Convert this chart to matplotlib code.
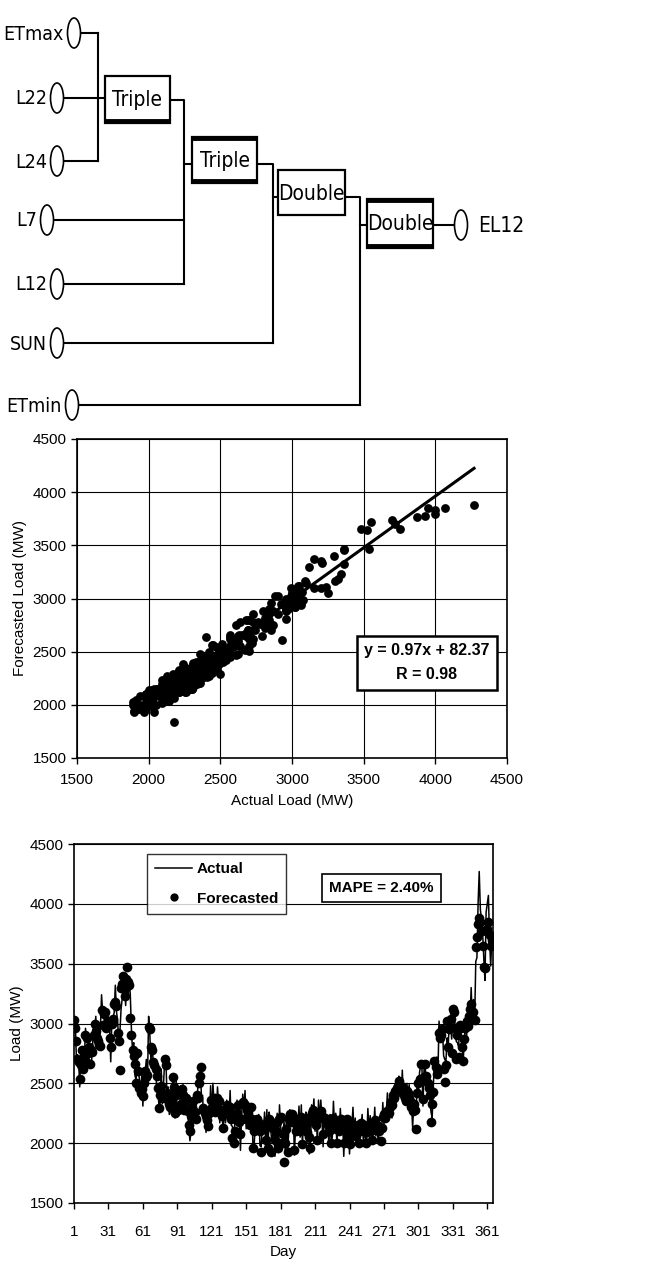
"""
Polynomial network for the 12 o'clock load plus its forecast check:
scatter of forecasted vs actual load and the daily load over the year.
"""

import os

import matplotlib.pyplot as plt
from matplotlib import font_manager as fm
from matplotlib.patches import Ellipse, Rectangle

# network inputs, top to bottom, and the node types feeding EL12
input_names = ["ETmax", "L22", "L24", "L7", "L12", "SUN", "ETmin"]
node_labels = ["Triple", "Triple", "Double", "Double"]
output_name = "EL12"

# daily 12 o'clock load (MW)
actual_load = [
    3000, 3040, 2730, 2740, 2690, 2470, 2790, 2730, 2720, 2690,
    2960, 2860, 2860, 2710, 2690, 2640, 2780, 2970, 2960, 3060,
    2800, 2900, 2810, 2960, 3240, 3080, 3050, 2990, 3000, 3000,
    2990, 2960, 2680, 3040, 3050, 3090, 3320, 3100, 3020, 2840,
    2930, 3120, 3210, 3290, 3340, 3150, 3360, 3200, 3360, 3250,
    2960, 2760, 2840, 2570, 2530, 2610, 2620, 2530, 2380, 2570,
    2310, 2550, 2590, 2700, 2510, 3060, 2920, 2690, 2820, 2680,
    2620, 2700, 2440, 2500, 2300, 2330, 2620, 2330, 2500, 2690,
    2710, 2400, 2470, 2240, 2330, 2240, 2570, 2540, 2210, 2520,
    2220, 2330, 2300, 2480, 2390, 2490, 2250, 2240, 2420, 2270,
    2120, 2020, 2110, 2340, 2360, 2190, 2340, 2350, 2480, 2490,
    2620, 2400, 2400, 2180, 2280, 2090, 2210, 2210, 2210, 2480,
    2220, 2500, 2340, 2410, 2230, 2470, 2320, 2170, 2310, 2230,
    2100, 2330, 2170, 2360, 2290, 2180, 2440, 2150, 2140, 1990,
    2160, 2200, 2360, 2230, 2210, 1940, 2220, 2410, 2290, 2440,
    2120, 2330, 2240, 2300, 2240, 2290, 1930, 1990, 2190, 2200,
    2150, 2240, 1980, 1970, 2140, 2080, 2260, 1980, 2280, 1950,
    2260, 2160, 2040, 2060, 2150, 1890, 2120, 2250, 1920, 2320,
    2140, 2050, 2070, 2180, 1940, 2210, 1900, 2090, 2280, 2180,
    2210, 2260, 1900, 2140, 2160, 2130, 2310, 2050, 2320, 1980,
    2240, 2180, 2260, 2000, 2240, 1910, 1980, 2320, 2240, 2370,
    2100, 2200, 2020, 2360, 2180, 2360, 2200, 1970, 2240, 2210,
    2150, 2230, 1980, 2240, 2010, 2050, 2350, 2130, 2250, 1990,
    2180, 2080, 2290, 2110, 2200, 1890, 2150, 2170, 2160, 2180,
    1910, 2110, 2120, 2300, 2080, 2210, 2030, 2040, 2040, 2100,
    2140, 2240, 2020, 2140, 2010, 2020, 2290, 2090, 2230, 2090,
    2090, 2120, 2300, 2060, 2160, 2000, 2120, 2090, 2090, 2340,
    2160, 2260, 2240, 2420, 2190, 2390, 2310, 2210, 2440, 2380,
    2410, 2540, 2360, 2560, 2500, 2380, 2610, 2360, 2480, 2340,
    2500, 2400, 2490, 2260, 2330, 2130, 2350, 2350, 2250, 2540,
    2420, 2590, 2650, 2670, 2310, 2640, 2630, 2450, 2540, 2460,
    2370, 2260, 2210, 2470, 2700, 2570, 2720, 2570, 3020, 2870,
    2960, 2930, 2730, 2700, 2680, 2880, 2820, 3020, 3000, 2870,
    3040, 3150, 2950, 2850, 2840, 2810, 2960, 2850, 2840, 2690,
    2840, 3040, 2900, 3020, 3070, 3050, 3300, 3000, 3200, 3020,
    3520, 3550, 4000, 4270, 3950, 3870, 3750, 3540, 3360, 3930,
    4000, 4070, 3700, 3480, 3720,
]

forecast_load = [
    3030, 2960, 2850, 2700, 2680, 2540, 2650, 2780, 2620, 2700,
    2900, 2880, 2750, 2800, 2660, 2780, 2760, 2900, 3000, 2940,
    2880, 2850, 2820, 2810, 3110, 2990, 3080, 3100, 2960, 3000,
    3020, 2880, 2800, 3000, 3040, 3160, 3180, 3150, 2920, 2850,
    2610, 3300, 3330, 3400, 3230, 3370, 3470, 3350, 3320, 3050,
    2900, 2780, 2730, 2660, 2500, 2750, 2600, 2460, 2420, 2450,
    2390, 2500, 2600, 2550, 2570, 2970, 2950, 2800, 2780, 2680,
    2650, 2620, 2560, 2460, 2290, 2400, 2480, 2380, 2400, 2700,
    2650, 2420, 2360, 2330, 2300, 2380, 2550, 2470, 2250, 2400,
    2300, 2280, 2310, 2330, 2450, 2400, 2280, 2350, 2380, 2270,
    2150, 2100, 2230, 2300, 2350, 2260, 2200, 2400, 2380, 2500,
    2560, 2640, 2290, 2270, 2250, 2230, 2190, 2140, 2250, 2360,
    2300, 2290, 2350, 2260, 2290, 2380, 2350, 2280, 2270, 2230,
    2130, 2250, 2290, 2320, 2280, 2250, 2300, 2200, 2040, 2000,
    2100, 2220, 2250, 2320, 2180, 2080, 2200, 2340, 2330, 2320,
    2200, 2280, 2250, 2150, 2300, 2200, 1960, 2100, 2150, 2200,
    2180, 2160, 2100, 1930, 2130, 2150, 2120, 2030, 2180, 1960,
    2200, 2180, 1930, 2150, 2120, 2030, 2100, 2180, 1960, 2200,
    2220, 2000, 2080, 1840, 2000, 2120, 1930, 2200, 2240, 2180,
    2240, 2180, 1940, 2100, 2150, 2200, 2170, 2100, 2220, 1990,
    2180, 2200, 2150, 2090, 2210, 2050, 1960, 2250, 2280, 2250,
    2180, 2150, 2030, 2210, 2240, 2270, 2230, 2080, 2200, 2210,
    2180, 2150, 2100, 2200, 2000, 2120, 2210, 2180, 2150, 2000,
    2120, 2100, 2180, 2200, 2170, 2000, 2130, 2100, 2200, 2060,
    1990, 2060, 2130, 2150, 2140, 2120, 2060, 2150, 2000, 2100,
    2170, 2160, 2140, 2100, 2000, 2090, 2150, 2140, 2130, 2100,
    2030, 2140, 2190, 2150, 2130, 2140, 2100, 2020, 2130, 2220,
    2240, 2210, 2250, 2270, 2250, 2300, 2340, 2320, 2400, 2380,
    2440, 2460, 2480, 2520, 2490, 2450, 2470, 2410, 2380, 2350,
    2440, 2420, 2380, 2350, 2300, 2270, 2330, 2280, 2120, 2420,
    2500, 2540, 2660, 2520, 2370, 2550, 2660, 2560, 2500, 2460,
    2400, 2180, 2330, 2430, 2690, 2640, 2580, 2620, 2920, 2880,
    2900, 2950, 2620, 2510, 2650, 3020, 2800, 2950, 3040, 2750,
    3120, 3100, 2960, 2700, 2900, 2720, 2990, 2960, 2800, 2690,
    2870, 2960, 3020, 2980, 3060, 3120, 3160, 3050, 3100, 3030,
    3640, 3720, 3830, 3880, 3850, 3770, 3650, 3470, 3460, 3780,
    3790, 3850, 3740, 3650, 3700,
]

days = list(range(1, len(actual_load) + 1))

fit_slope = 0.97
fit_intercept = 82.37
fit_r = 0.98
mape_pct = 2.40

load_ticks = list(range(1500, 4501, 500))
day_ticks = list(range(1, 362, 30))


def find_narrow_font():
    """The diagram uses a tall, narrow face; grab a condensed one if any."""
    wanted = ["dejavusanscondensed.", "liberationsansnarrow-regular",
              "notosans-condensed.", "notosanscondensed-regular",
              "roboto_condensed-regular", "robotocondensed-regular",
              "opensans_condensed-regular", "opensanscondensed-regular"]
    files = {os.path.basename(f.fname).lower(): f.fname
             for f in fm.fontManager.ttflist}
    for key in wanted:
        for base, path in files.items():
            if base.startswith(key) or key in base:
                return path
    return None


NARROW_FILE = find_narrow_font()


def diagram_font(size):
    if NARROW_FILE:
        return fm.FontProperties(fname=NARROW_FILE, size=size)
    return fm.FontProperties(family="Liberation Sans", size=size * 0.8)


def draw_node(ax, x0, y0, x1, y1, label, heavy):
    """Box for one polynomial node; heavy lists the edges drawn thick."""
    ax.add_patch(Rectangle((x0, y0), x1 - x0, y1 - y0, facecolor="white",
                           edgecolor="black", lw=1.6, zorder=2))
    if "t" in heavy:
        ax.plot([x0, x1], [y0 + 1.5, y0 + 1.5], color="black", lw=3.5, zorder=3,
                solid_capstyle="butt")
    if "b" in heavy:
        ax.plot([x0, x1], [y1 - 1.5, y1 - 1.5], color="black", lw=3.5, zorder=3,
                solid_capstyle="butt")
    ax.text((x0 + x1) / 2, (y0 + y1) / 2 + 1, label, ha="center", va="center",
            fontproperties=diagram_font(15), zorder=4)


def draw_network(ax):
    """The network diagram, drawn on a pixel grid."""
    ax.set_xlim(0, 654)
    ax.set_ylim(425, 0)
    ax.axis("off")
    lw = 1.5

    row_y = [33, 98, 161, 220, 284, 343, 405]
    circle_x = [74, 57, 57, 47, 57, 57, 72]
    line_end = [98, 105, 98, 184, 184, 273, 360]

    for name, y, cx, x_end in zip(input_names, row_y, circle_x, line_end):
        ax.plot([cx + 6, x_end], [y, y], color="black", lw=lw)
        ax.add_patch(Ellipse((cx, y), 13, 30, facecolor="white",
                             edgecolor="black", lw=1.2, zorder=3))
        ax.text(cx - 10, y + 1, name, ha="right", va="center",
                fontproperties=diagram_font(14))

    boxes = [
        (105, 76, 170, 123, "b"),
        (192, 137, 257, 183, "tb"),
        (278, 170, 345, 215, ""),
        (367, 199, 433, 248, "tb"),
    ]
    for (x0, y0, x1, y1, heavy), label in zip(boxes, node_labels):
        draw_node(ax, x0, y0, x1, y1, label, heavy)

    # wiring between the stages
    wires = [
        ([98, 98], [33, 161]),
        ([170, 184, 184], [100, 100, 284]),
        ([184, 192], [164, 164]),
        ([257, 273, 273], [164, 164, 343]),
        ([273, 278], [197, 197]),
        ([345, 360, 360], [197, 197, 405]),
        ([360, 367], [225, 225]),
        ([433, 455], [225, 225]),
    ]
    for xs, ys in wires:
        ax.plot(xs, ys, color="black", lw=lw, zorder=1)

    ax.add_patch(Ellipse((461, 225), 13, 30, facecolor="white",
                         edgecolor="black", lw=1.2, zorder=3))
    ax.text(478, 226, output_name, ha="left", va="center",
            fontproperties=diagram_font(15))


def style_axes(ax, xpad):
    for spine in ax.spines.values():
        spine.set_linewidth(1.2)
        spine.set_color("black")
    ax.tick_params(direction="out", length=4, width=1, labelsize=11)
    ax.tick_params(axis="x", pad=xpad)


def draw_scatter(ax):
    """Forecasted vs actual load with the fitted line."""
    x_lo, x_hi = min(actual_load), max(actual_load)
    ax.plot([x_lo, x_hi],
            [fit_slope * x_lo + fit_intercept, fit_slope * x_hi + fit_intercept],
            color="black", lw=2.2, zorder=2)
    ax.scatter(actual_load, forecast_load, s=40, color="black", zorder=3,
               linewidths=0)

    ax.set_xlim(1500, 4500)
    ax.set_ylim(1500, 4500)
    ax.set_xticks(load_ticks)
    ax.set_yticks(load_ticks)
    ax.grid(True, color="black", lw=0.8)
    ax.set_axisbelow(True)
    style_axes(ax, xpad=7)
    ax.set_xlabel("Actual Load (MW)", fontsize=11, labelpad=5)
    ax.set_ylabel("Forecasted Load (MW)", fontsize=11)

    ax.text(0.813, 0.298,
            f"y = {fit_slope:.2f}x + {fit_intercept:.2f}\nR = {fit_r:.2f}",
            transform=ax.transAxes, ha="center", va="center", fontsize=11.5,
            fontweight="bold", linespacing=1.75, zorder=5,
            bbox=dict(boxstyle="square,pad=0.45", facecolor="white",
                      edgecolor="black", lw=1.8))


def draw_timeseries(ax):
    """Daily actual load (line) and forecast (dots)."""
    ax.plot(days, actual_load, color="black", lw=1.1, label="Actual", zorder=3)
    ax.plot(days, forecast_load, "o", color="black", ms=7, mew=0,
            label="Forecasted", zorder=4)

    ax.set_xlim(1, 366)
    ax.set_ylim(1500, 4500)
    ax.set_xticks(day_ticks)
    ax.set_yticks(load_ticks)
    ax.grid(True, axis="y", color="black", lw=0.8)
    ax.set_axisbelow(True)
    style_axes(ax, xpad=12)
    ax.set_xlabel("Day", fontsize=11, labelpad=4)
    ax.set_ylabel("Load (MW)", fontsize=11)

    leg = ax.legend(loc="upper left", bbox_to_anchor=(0.174, 0.972),
                    borderaxespad=0, frameon=True, fancybox=False,
                    handlelength=2.4, borderpad=0.55, labelspacing=1.0,
                    handletextpad=0.3, markerscale=0.85,
                    prop={"weight": "bold", "size": 11})
    leg.get_frame().set_edgecolor("black")
    leg.get_frame().set_linewidth(1.0)

    ax.text(0.734, 0.878, f"MAPE = {mape_pct:.2f}%", transform=ax.transAxes,
            ha="center", va="center", fontsize=11, fontweight="bold", zorder=5,
            bbox=dict(boxstyle="square,pad=0.45", facecolor="white",
                      edgecolor="black", lw=1.2))


def main():
    plt.rcParams["font.family"] = ["Liberation Sans", "DejaVu Sans"]
    W, H = 654, 1261
    fig = plt.figure(figsize=(W / 100, H / 100), dpi=100)

    ax_net = fig.add_axes([0, 1 - 425 / H, 1, 425 / H])
    draw_network(ax_net)

    ax_sc = fig.add_axes([77 / W, 1 - 758 / H, 430 / W, 319 / H])
    draw_scatter(ax_sc)

    ax_ts = fig.add_axes([74 / W, 1 - 1203 / H, 419 / W, 359 / H])
    draw_timeseries(ax_ts)

    fig.savefig("out.png", dpi=100, facecolor="white")


if __name__ == "__main__":
    main()
